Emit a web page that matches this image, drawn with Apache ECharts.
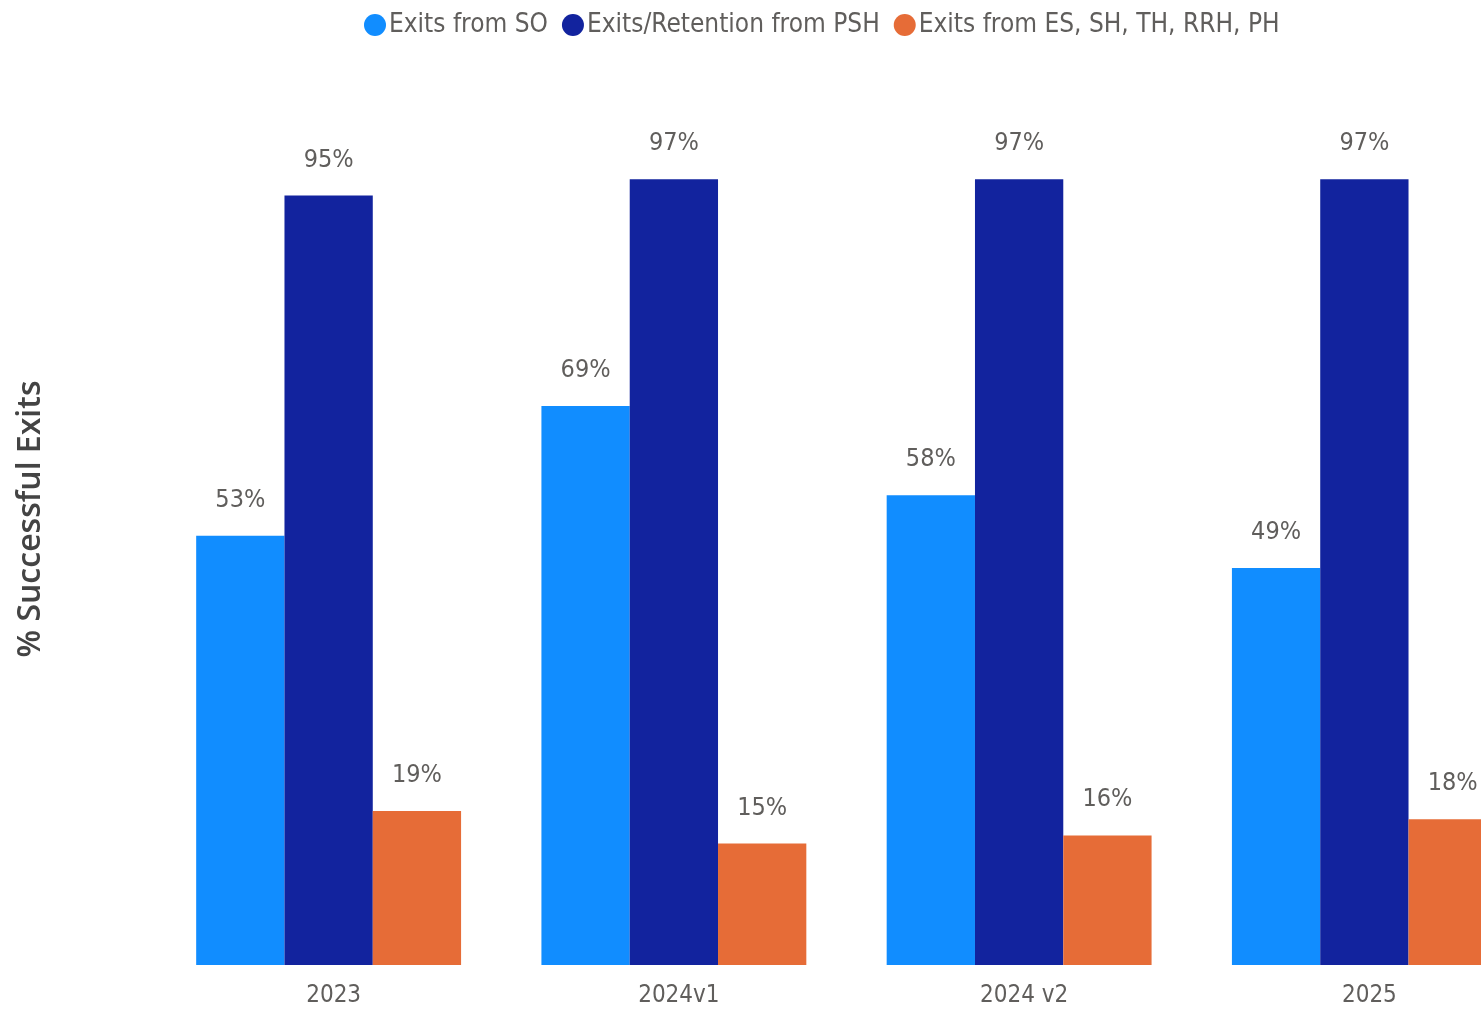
<!DOCTYPE html>
<html>
<head>
<meta charset="utf-8">
<script src="https://cdn.jsdelivr.net/npm/echarts@6/dist/echarts.min.js"></script>
<style>
  html, body { margin: 0; padding: 0; background: #ffffff; }
  #chart { width: 1481px; height: 1009px; }
</style>
</head>
<body>
<div id="chart"></div>
<script>
// Share of successful exits by reporting period
const categories = ['2023', '2024v1', '2024 v2', '2025'];
const seriesNames = ['Exits from SO', 'Exits/Retention from PSH', 'Exits from ES, SH, TH, RRH, PH'];
const exitsSO = [53, 69, 58, 49];
const exitsPSH = [95, 97, 97, 97];
const exitsOther = [19, 15, 16, 18];
const colors = ['#118DFF', '#12239E', '#E66C37'];

const FONT = '"Liberation Sans Narrow", "DejaVu Sans Condensed", "Open Sans", sans-serif';
const TEXT = '#605E5C';

function barSeries(name, values, color) {
  return {
    name: name,
    type: 'bar',
    data: values,
    barWidth: 88.3,
    barGap: '0%',
    itemStyle: { color: color },
    label: {
      show: true,
      position: 'top',
      distance: 23,
      formatter: p => p.value + '%',
      color: TEXT,
      fontFamily: FONT,
      fontSize: 25
    }
  };
}

const chart = echarts.init(document.getElementById('chart'), null, { renderer: 'canvas' });
chart.setOption({
  animation: false,
  color: colors,
  legend: {
    data: seriesNames,
    left: 359,
    top: 7,
    icon: 'circle',
    itemWidth: 22,
    itemHeight: 22,
    itemGap: 14,
    textStyle: { color: TEXT, fontFamily: FONT, fontSize: 26, padding: [0, 0, 0, -2] }
  },
  // the plot runs past the right edge, so the last group is cut off
  grid: { left: 156, top: 155, right: -56, bottom: 44, outerBoundsMode: 'none' },
  xAxis: {
    type: 'category',
    data: categories,
    axisLine: { show: false },
    axisTick: { show: false },
    axisLabel: { color: TEXT, fontFamily: FONT, fontSize: 24, margin: 19, padding: [0, 0, 0, 10] }
  },
  yAxis: {
    type: 'value',
    min: 0,
    max: 100,
    show: false,
    splitLine: { show: false }
  },
  graphic: [{
    type: 'text',
    x: 31,
    y: 519,
    rotation: Math.PI / 2,
    style: {
      text: '% Successful Exits',
      fill: '#444444',
      font: '600 32px "Open Sans", sans-serif',
      textAlign: 'center',
      textVerticalAlign: 'middle'
    }
  }],
  series: [
    barSeries(seriesNames[0], exitsSO, colors[0]),
    barSeries(seriesNames[1], exitsPSH, colors[1]),
    barSeries(seriesNames[2], exitsOther, colors[2])
  ]
});
</script>
</body>
</html>
